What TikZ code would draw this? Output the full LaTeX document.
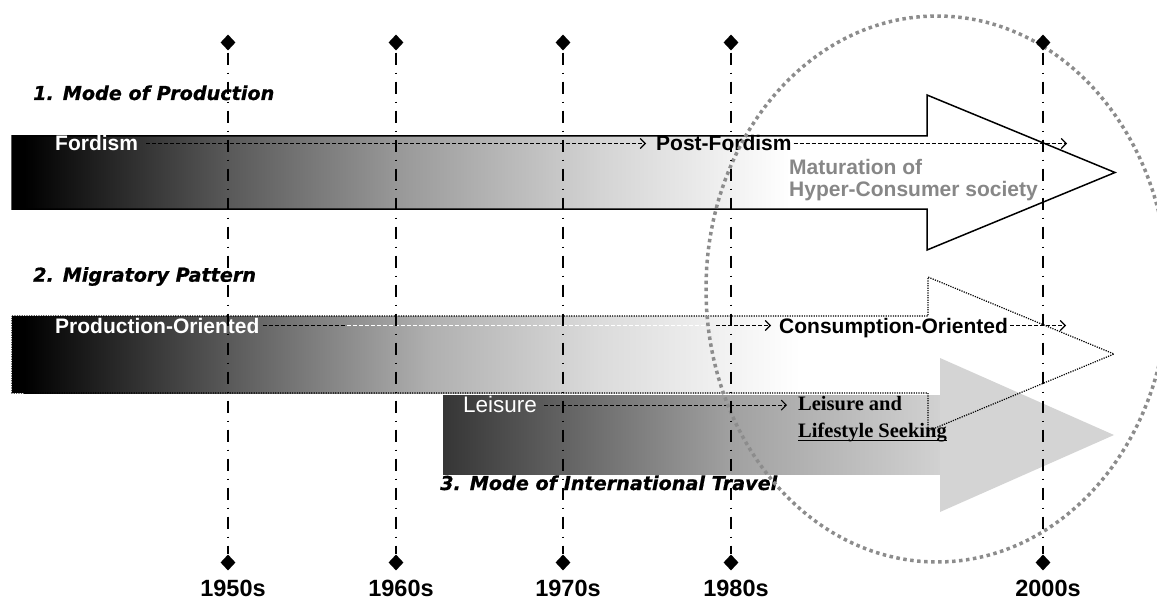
\documentclass[tikz,border=0pt]{standalone}
\usepackage{fontspec}
\setmainfont{Liberation Sans}
\newfontfamily\titlefont{DejaVu Sans Bold Oblique}[FakeBold=0.7]
\newfontfamily\serifft{Liberation Serif}
\usetikzlibrary{arrows.meta,shapes.geometric}
\definecolor{circgray}{gray}{0.55}
\definecolor{labgray}{gray}{0.53}
\begin{document}
\begin{tikzpicture}[x=1pt,y=-1pt,
 lab/.style={inner sep=0pt, text height=15pt, text depth=0pt, anchor=base west},
 boldlab/.style={lab, font=\fontsize{21}{24}\selectfont\bfseries},
 sectitle/.style={lab, font=\titlefont\fontsize{19.2}{22}\selectfont},
 yearlab/.style={inner sep=0pt, anchor=base, font=\fontsize{23.5}{26}\selectfont\bfseries},
 serlab/.style={lab, font=\serifft\fontsize{20.5}{23}\selectfont\bfseries},
 diam/.style={shape=diamond, fill=black, inner sep=0pt, minimum width=15pt, minimum height=16pt},
 vline/.style={line width=2pt, dash pattern=on 12pt off 8pt on 1.5pt off 7.5pt, dash phase=27pt},
 conn/.style={line width=1.1pt, dash pattern=on 4pt off 2pt},
 endarrow/.style={-{Straight Barb[length=5pt,width=10pt]}},
 circ/.style={circgray, line width=3.5pt, dash pattern=on 3.5pt off 3.5pt},
]
\useasboundingbox (0,0) rectangle (1157,599);

% ---------- arrow 1 ----------
\fill[white] (12,136) -- (927,136) -- (927,95) -- (1115,172.5) -- (927,250) -- (927,209) -- (12,209) -- cycle;
\fill[black] (12,136) rectangle (24.5,209);
\shade[left color=black, right color=black!65] (24,136) rectangle (228.6,209);
\shade[left color=black!65, right color=black!40] (228.4,136) rectangle (400.6,209);
\shade[left color=black!40, right color=black!17] (400.4,136) rectangle (600.6,209);
\shade[left color=black!17, right color=white] (600.4,136) rectangle (790,209);
\draw[line width=1.5pt, line join=miter] (12,136) -- (927,136) -- (927,95) -- (1115,172.5) -- (927,250) -- (927,209) -- (12,209) -- cycle;

% ---------- arrow 2 (fill) ----------
\fill[white] (12,316) -- (928,316) -- (928,277) -- (1114,354) -- (928,431) -- (928,393) -- (12,393) -- cycle;
\fill[black] (12,316) rectangle (24.5,393);
\shade[left color=black, right color=black!65] (24,316) rectangle (228.6,393);
\shade[left color=black!65, right color=black!31] (228.4,316) rectangle (430.6,393);
\shade[left color=black!31, right color=black!14] (430.4,316) rectangle (600.6,393);
\shade[left color=black!14, right color=white] (600.4,316) rectangle (800,393);

% ---------- arrow 3 ----------
\shade[left color=black!79, right color=black!37] (443,395) rectangle (730.6,474);
\shade[left color=black!37, right color=black!18] (730.4,395) rectangle (940.5,474);
\fill[black!17] (940,358) -- (1114,435) -- (940,512) -- cycle;

% ---------- arrow 2 (outline) ----------
\draw[line width=1.2pt, dash pattern=on 1.2pt off 1.2pt] (12,316) -- (928,316) -- (928,277) -- (1114,354) -- (928,431) -- (928,393) -- (12,393) -- cycle;

% ---------- titles ----------
\node[sectitle] (t1) at (33,100) {1. Mode of Production};
\node[sectitle] (t2) at (33,281.7) {2. Migratory Pattern};
\node[sectitle] (t3) at (440,490) {3. Mode of International Travel};

% ---------- row 1 labels ----------
\node[boldlab, text=white] (ford) at (55,151) {Fordism};
\node[boldlab] (pford) at (656,151) {Post-Fordism};
\node[boldlab, text=labgray] (mat) at (789,174.5) {Maturation of};
\node[boldlab, text=labgray] (hyp) at (789,196.5) {Hyper-Consumer society};
\coordinate (e1) at (1067,144);
\draw[conn, endarrow, shorten <=8pt, shorten >=10pt] (ford.east) -- (ford.east -| pford.west);
\draw[conn, endarrow, shorten <=2pt] (pford.east) -- (pford.east -| e1);

% ---------- row 2 labels ----------
\node[boldlab, text=white] (prod) at (55,333) {Production-Oriented};
\node[boldlab] (cons) at (779,333) {Consumption-Oriented};
\coordinate (w1) at (347,326);
\coordinate (w2) at (706,326);
\coordinate (w3) at (716,326);
\coordinate (e2) at (1066,326);
\draw[conn, shorten <=3pt] (prod.east) -- (prod.east -| w1);
\draw[conn, white] (prod.east -| w1) -- (prod.east -| w2);
\draw[conn, endarrow, shorten >=8pt] (prod.east -| w3) -- (prod.east -| cons.west);
\draw[conn, endarrow, shorten <=2pt] (cons.east) -- (cons.east -| e2);

% ---------- row 3 labels ----------
\node[lab, text=white, font=\fontsize{22.5}{25}\selectfont] (leis) at (463,412.7) {Leisure};
\node[serlab] (leisand) at (798,410.7) {Leisure and};
\node[serlab] (life) at (798,437.7) {Lifestyle Seeking};
\draw[line width=1.4pt] ([yshift=-2.6pt]life.base west) -- ([yshift=-2.6pt]life.base east);
\draw[conn, endarrow, shorten <=7pt, shorten >=11pt] (leis.east) -- (leis.east -| leisand.west);

% ---------- ellipse ----------
\draw[circ] (937,289) ellipse [x radius=231, y radius=273];

% ---------- time lines ----------
\foreach \n/\x/\yr in {a/228/1950s, b/396/1960s, c/563/1970s, d/731/1980s, e/1043/2000s} {
  \node[diam] (top\n) at (\x,42.5) {};
  \node[diam] (bot\n) at (\x,562.5) {};
  \draw[vline] (top\n.south) -- (bot\n.north);
  \node[yearlab] (yr\n) at (\x+5,596) {\yr};
}
\end{tikzpicture}
\end{document}
